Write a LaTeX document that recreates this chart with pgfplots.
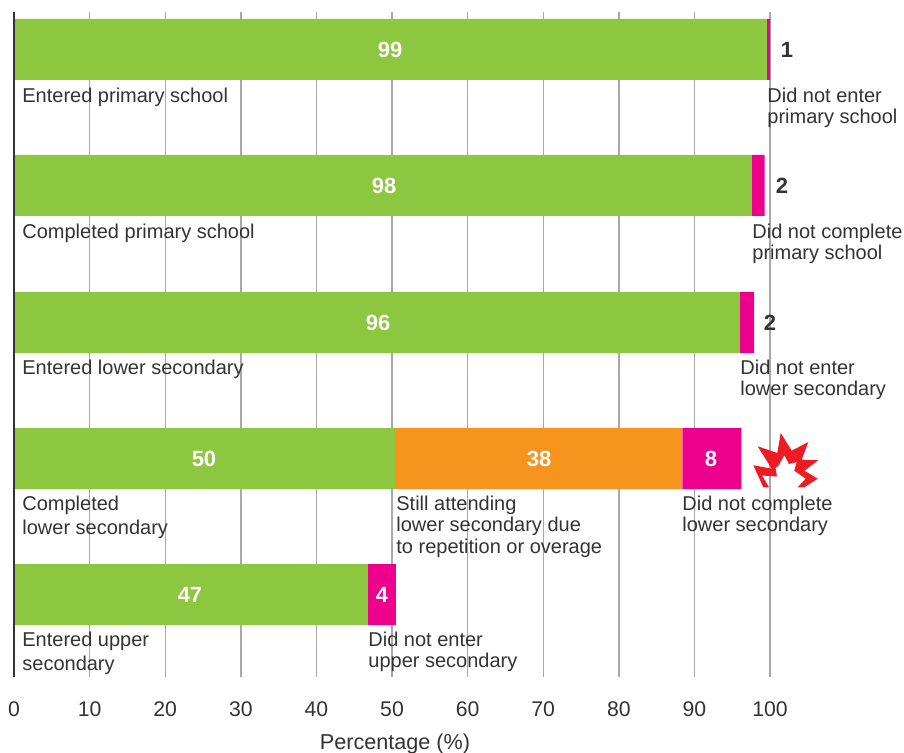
\documentclass[border=0pt]{standalone}
\usepackage{pgfplots}
\pgfplotsset{compat=1.18}
\usepackage{fontspec}
\setmainfont{Liberation Sans}
\definecolor{cgreen}{HTML}{8DC63F}
\definecolor{corange}{HTML}{F7941D}
\definecolor{cpink}{HTML}{EC008C}
\definecolor{cred}{HTML}{ED1C24}
\definecolor{ctext}{HTML}{333333}
\definecolor{cgrid}{HTML}{A8A8A8}
\begin{document}
\begin{tikzpicture}[x=1pt,y=1pt]
\useasboundingbox (0,0) rectangle (452pt,376.5pt);
\begin{axis}[
  at={(7pt,38pt)},anchor=south west,
  scale only axis,width=378pt,height=332.5pt,
  xmin=0,xmax=100,ymin=12,ymax=677,y dir=reverse,
  xbar stacked,bar width=30.5pt,
  axis lines*=left,
  x axis line style={draw=none},
  y axis line style={draw=none},
  xtick={0,10,...,100},ytick=\empty,
  major tick length=0pt,
  xmajorgrids,grid style={cgrid,line width=0.7pt},
  /pgf/number format/assume math mode=true,
  tick label style={font=\fontsize{10.6}{12}\selectfont,text=ctext},
  xticklabel style={yshift=-9pt},
  xlabel={Percentage (\%)},
  xlabel style={font=\fontsize{10.8}{12}\selectfont,text=ctext,at={(axis description cs:0.504,0)},anchor=base,yshift=-36pt},
  clip=false,
]
\addplot[draw=none,fill=cgreen] coordinates {(99.6,49.5) (97.6,185.5) (96,322.5) (50.4,458.5) (46.8,594.5)};
\addplot[draw=none,fill=corange] coordinates {(0,49.5) (0,185.5) (0,322.5) (38,458.5) (0,594.5)};
\addplot[draw=none,fill=cpink] coordinates {(0.4,49.5) (1.7,185.5) (1.9,322.5) (7.8,458.5) (3.7,594.5)};
\end{axis}
\begin{scope}[x=0.5pt,y=-0.5pt,shift={(0,376.5pt)},
  lab/.style={anchor=base west,inner sep=0pt,font=\fontsize{10}{12}\selectfont,text=ctext},
  val/.style={anchor=base,inner sep=0pt,font=\fontsize{11}{13}\bfseries\selectfont,text=white},
  valk/.style={anchor=base,inner sep=0pt,font=\fontsize{11}{13}\bfseries\selectfont,text=ctext}]
\draw[ctext,line width=1pt] (14.3,12) -- (14.3,677);
\node[val] at (390,58) {99};
\node[val] at (384,194) {98};
\node[val] at (378,331) {96};
\node[val] at (204,467) {50};
\node[val] at (539,467) {38};
\node[val] at (711,467) {8};
\node[val] at (190,603) {47};
\node[val] at (382,603) {4};
\node[valk] at (787,58) {1};
\node[valk] at (782,194) {2};
\node[valk] at (770,331) {2};
\node[lab] at (22,103) {Entered primary school};
\node[lab] at (767,103) {Did not enter};
\node[lab] at (767,124) {primary school};
\node[lab] at (22,239) {Completed primary school};
\node[lab] at (752,239) {Did not complete};
\node[lab] at (752,260) {primary school};
\node[lab] at (22,375) {Entered lower secondary};
\node[lab] at (740,375) {Did not enter};
\node[lab] at (740,396) {lower secondary};
\node[lab] at (22,511) {Completed};
\node[lab] at (22,535) {lower secondary};
\node[lab] at (396,511) {Still attending};
\node[lab] at (396,532) {lower secondary due};
\node[lab] at (396,554) {to repetition or overage};
\node[lab] at (682,511) {Did not complete};
\node[lab] at (682,532) {lower secondary};
\node[lab] at (22,647) {Entered upper};
\node[lab] at (22,671) {secondary};
\node[lab] at (368,647) {Did not enter};
\node[lab] at (368,668) {upper secondary};
\fill[cred] (763.3,487.3) -- (753.3,465.3) -- (771.7,468.7) -- (757.7,446.3) -- (777.3,453) -- (780.7,433) -- (791.7,450.7) -- (808.3,442) -- (801.7,459.7) -- (818.3,460.3) -- (804.3,470.7) -- (817.7,478.7) -- (804.3,487.3) -- (797.7,487.3) -- (805.7,478.7) -- (794.3,470.7) -- (796.7,462) -- (789,464) -- (784.3,455.3) -- (778.5,465.5) -- (775.5,468) -- (777,476.5) -- (762,475.5) -- (769,487.3) -- cycle;
\end{scope}
\end{tikzpicture}
\end{document}
